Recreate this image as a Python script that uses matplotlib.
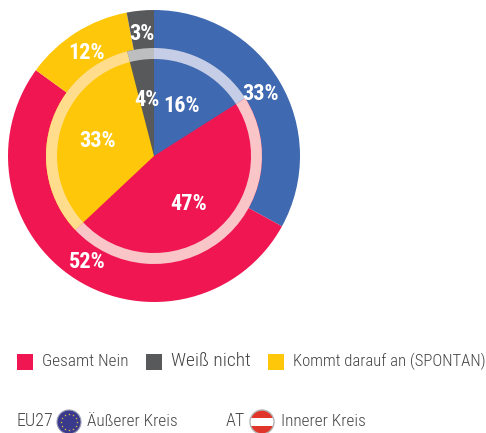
import numpy as np
import matplotlib
matplotlib.use("Agg")
import matplotlib.pyplot as plt
from matplotlib.patches import Circle, Rectangle

plt.rcParams['font.family'] = ['Roboto Condensed', 'Archivo Narrow', 'Liberation Sans', 'DejaVu Sans']

# clockwise from the top
segments = ["Gesamt Ja", "Gesamt Nein", "Kommt darauf an (SPONTAN)", "Weiß nicht"]
outer_eu27 = [33, 52, 12, 3]
inner_at = [16, 47, 33, 4]
seg_colors = ['#3F69B0', '#EF1652', '#FFC709', '#58595B']
ring_colors = ['#C6CDE6', '#F9C5C6', '#FFDD8C', '#BCBEC0']

legend_labels = ["Gesamt Nein", "Weiß nicht", "Kommt darauf an (SPONTAN)"]
legend_colors = ['#EF1652', '#58595B', '#FFC709']

W, H = 486, 433
fig = plt.figure(figsize=(W/100, H/100), dpi=100)
ax = fig.add_axes([0, 0, 1, 1])

cx, cy = 154, H-156
ax.pie(outer_eu27, colors=seg_colors, startangle=90, counterclock=False,
       radius=146, center=(cx, cy), frame=False)
ax.pie(inner_at, colors=seg_colors, startangle=90, counterclock=False,
       radius=108, center=(cx, cy), frame=False)
# the pale ring between both circles
ax.pie(inner_at, colors=ring_colors, startangle=90, counterclock=False,
       radius=108, center=(cx, cy), frame=False, wedgeprops=dict(width=11))

ax.set_xlim(0, W)
ax.set_ylim(0, H)
ax.set_aspect('equal')
ax.axis('off')

# percent labels, pixel positions from the top left
outer_pos = [(261, 94), (87, 262), (87, 53), (142, 34)]
inner_pos = [(182, 106), (189, 204), (98, 141), (147, 100)]
for vals, pos in [(outer_eu27, outer_pos), (inner_at, inner_pos)]:
    for v, (x, y) in zip(vals, pos):
        ax.text(x, H-y, f"{v}%", color='white', fontsize=16, fontweight='bold',
                ha='center', va='center')

# legend
txt = '#444444'
for lab, col, sx, tx, fs in zip(legend_labels, legend_colors, [17, 146, 268], [42, 171, 293], [12.4, 14, 12.1]):
    ax.add_patch(Rectangle((sx, H-370), 16, 16, fc=col, ec='none'))
    ax.text(tx, H-361, lab, color=txt, fontsize=fs, fontweight='light', ha='left', va='center')

ax.text(16, H-421, "EU27", color=txt, fontsize=13, fontweight='light', ha='left', va='center')
ax.text(87, H-421, "Äußerer Kreis", color=txt, fontsize=12.4, fontweight='light', ha='left', va='center')
ax.text(226, H-421, "AT", color=txt, fontsize=13, fontweight='light', ha='left', va='center')
ax.text(281, H-421, "Innerer Kreis", color=txt, fontsize=12.4, fontweight='light', ha='left', va='center')

# EU flag ball
ex, ey = 69, H-422
ax.add_patch(Circle((ex, ey), 12, fc='#3A3A8C', ec='#9a9ab5', lw=0.8))
a = np.arange(12)*np.pi/6
ax.scatter(ex+8*np.cos(a), ey+8*np.sin(a), s=3, marker='*', color='#E8C840', lw=0, zorder=3)

# AT flag ball
fx, fy = 262, H-422
c = Circle((fx, fy), 12, fc='white', ec='none')
ax.add_patch(c)
for y0 in [fy+4, fy-12]:
    r = Rectangle((fx-12, y0), 24, 8, fc='#E0352B', ec='none', zorder=3)
    ax.add_patch(r)
    r.set_clip_path(c)
ax.add_patch(Circle((fx, fy), 12, fc='none', ec='#b5b5b5', lw=1, zorder=4))

fig.savefig("out.png", dpi=100)
